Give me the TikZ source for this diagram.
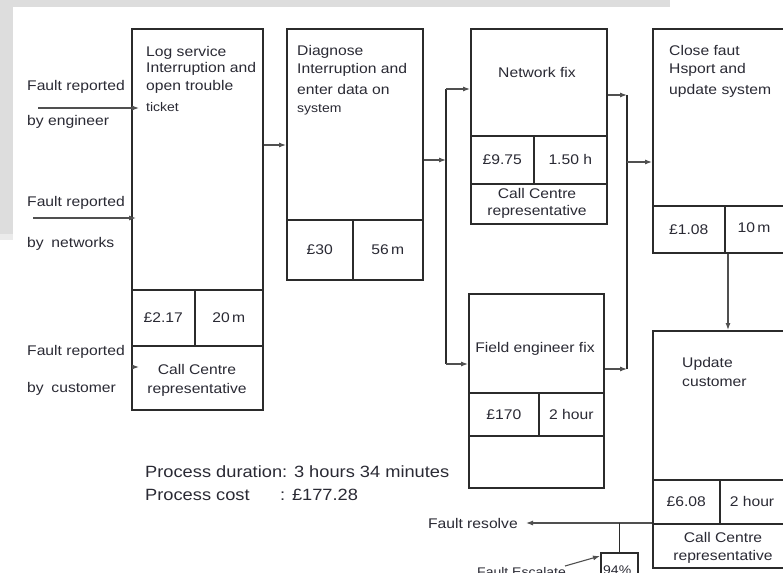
\documentclass[tikz,border=0pt]{standalone}
\usepackage{fontspec}
\setmainfont{Liberation Sans}[FakeStretch=1.12]
\usetikzlibrary{arrows.meta}
\definecolor{linec}{HTML}{2B2B2B}
\definecolor{connc}{HTML}{505050}
\definecolor{textc}{HTML}{2A2A34}
\definecolor{scan}{HTML}{DDDDDD}
\begin{document}
\begin{tikzpicture}[x=1pt,y=-1pt,
  cell/.style={draw=linec, line width=1.6pt, anchor=north west, inner sep=0pt, fill=none},
  txt/.style={inner sep=0pt, text=textc, font=\fontsize{14}{16}\selectfont},
  small/.style={txt, font=\fontsize{12.5}{14}\selectfont},
  ptxt/.style={txt, font=\fontsize{16.3}{18}\selectfont},
  conn/.style={draw=connc, line width=1.1pt},
  vline/.style={draw=linec, line width=1.5pt},
  arr/.style={conn, -{Latex[length=7pt,width=5pt]}}]
\useasboundingbox (0,0) rectangle (783,572);
\fill[white] (0,0) rectangle (783,572);
% scan artefacts
\fill[scan] (0,0) rectangle (670,7);
\fill[scan] (0,0) rectangle (13,234);
\fill[scan!60] (0,234) rectangle (13,240);

% ---- Box 1: Log service
\node[cell, minimum width=131pt, minimum height=261pt] (b1) at (131,28) {};
\node[cell, minimum width=63pt, minimum height=56pt] (b1c) at (131,289) {};
\node[cell, minimum width=68pt, minimum height=56pt] (b1t) at (194,289) {};
\node[cell, minimum width=131pt, minimum height=64pt] (b1r) at (131,345) {};
\node[txt, anchor=base west] (t1a) at (146,57) {Log service};
\node[txt, anchor=base west] (t1b) at (146,73) {Interruption and};
\node[txt, anchor=base west] (t1c) at (146,91) {open trouble};
\node[small, anchor=base west] (t1d) at (146,112) {ticket};
\node[txt] (t1e) at (b1c) {£2.17};
\node[txt] (t1f) at (b1t) {20\,m};
\node[txt] (t1g) at (197,369) {Call Centre};
\node[txt] (t1h) at (197,390) {representative};

% ---- Box 2: Diagnose
\node[cell, minimum width=136pt, minimum height=191pt] (b2) at (286,28) {};
\node[cell, minimum width=66pt, minimum height=60pt] (b2c) at (286,219) {};
\node[cell, minimum width=70pt, minimum height=60pt] (b2t) at (352,219) {};
\node[txt, anchor=base west] (t2a) at (297,56) {Diagnose};
\node[txt, anchor=base west] (t2b) at (297,74) {Interruption and};
\node[txt, anchor=base west] (t2c) at (297,95) {enter data on};
\node[small, anchor=base west] (t2d) at (297,113) {system};
\node[txt] (t2e) at (b2c) {£30};
\node[txt] (t2f) at (b2t) {56\,m};

% ---- Box 3: Network fix
\node[cell, minimum width=136pt, minimum height=107pt] (b3) at (470,28) {};
\node[cell, minimum width=63pt, minimum height=48pt] (b3c) at (470,135) {};
\node[cell, minimum width=73pt, minimum height=48pt] (b3t) at (533,135) {};
\node[cell, minimum width=136pt, minimum height=40pt] (b3r) at (470,183) {};
\node[txt] (t3a) at (537,72) {Network fix};
\node[txt] (t3b) at (b3c) {£9.75};
\node[txt] (t3c) at (b3t) {1.50 h};
\node[txt] (t3d) at (537,193) {Call Centre};
\node[txt] (t3e) at (537,212) {representative};

% ---- Box 4: Field engineer fix
\node[cell, minimum width=135pt, minimum height=99pt] (b4) at (468,293) {};
\node[cell, minimum width=70pt, minimum height=43pt] (b4c) at (468,392) {};
\node[cell, minimum width=65pt, minimum height=43pt] (b4t) at (538,392) {};
\node[cell, minimum width=135pt, minimum height=52pt] (b4r) at (468,435) {};
\node[txt] (t4a) at (535,349) {Field engineer fix};
\node[txt] (t4b) at (b4c) {£170};
\node[txt] (t4c) at (b4t) {2 hour};

% ---- Box 5: Close fault
\node[cell, minimum width=150pt, minimum height=177pt] (b5) at (652,28) {};
\node[cell, minimum width=72pt, minimum height=47pt] (b5c) at (652,205) {};
\node[cell, minimum width=78pt, minimum height=47pt] (b5t) at (724,205) {};
\node[txt, anchor=base west] (t5a) at (669,56) {Close faut};
\node[txt, anchor=base west] (t5b) at (669,74) {Hsport and};
\node[txt, anchor=base west] (t5c) at (669,95) {update system};
\node[txt] (t5d) at (b5c) {£1.08};
\node[txt] (t5e) at (754,228) {10\,m};

% ---- Box 6: Update customer
\node[cell, minimum width=150pt, minimum height=149pt] (b6) at (652,330) {};
\node[cell, minimum width=67pt, minimum height=44pt] (b6c) at (652,479) {};
\node[cell, minimum width=83pt, minimum height=44pt] (b6t) at (719,479) {};
\node[cell, minimum width=150pt, minimum height=44pt] (b6r) at (652,523) {};
\node[txt, anchor=base west] (t6a) at (682,367) {Update};
\node[txt, anchor=base west] (t6b) at (682,386) {customer};
\node[txt] (t6c) at (b6c) {£6.08};
\node[txt] (t6d) at (752,501) {2 hour};
\node[txt] (t6e) at (723,537) {Call Centre};
\node[txt] (t6f) at (723,557) {representative};

% ---- 94% box
\node[cell, minimum width=37pt, minimum height=40pt] (pct) at (600,552) {};
\node[small, anchor=base west] (t7a) at (603,574) {94\%};

% ---- left labels
\node[txt, anchor=base west] (l1a) at (27,91) {Fault reported};
\node[txt, anchor=base west] (l1b) at (27,126) {by engineer};
\node[txt, anchor=base west] (l2a) at (27,206) {Fault reported};
\node[txt, anchor=base west] (l2b) at (27,247) {by\hspace{0.55em}networks};
\node[txt, anchor=base west] (l3a) at (27,355) {Fault reported};
\node[txt, anchor=base west] (l3b) at (27,392) {by\hspace{0.55em}customer};

% ---- process summary
\node[ptxt, anchor=base west] (pd) at (145,477) {Process duration: 3 hours 34 minutes};
\node[ptxt, anchor=base west] (pc) at (145,500) {Process cost};
\node[ptxt, anchor=base west] (pc2) at (280,500) {: £177.28};

% ---- bottom labels
\node[txt, anchor=base east] (fr) at (518,528) {Fault resolve};
\node[small, anchor=base west] (fe) at (477,576) {Fault Escalate};

% ---- coordinates
\coordinate (e1s) at (38,108);  \coordinate (e1e) at (139,108);
\coordinate (e2s) at (33,218);  \coordinate (e2e) at (136,218);
\coordinate (e3s) at (132,367); \coordinate (e3e) at (139,367);
\coordinate (jL) at (446,160);
\coordinate (jLt) at (446,89);
\coordinate (jLb) at (446,364);
\coordinate (jRt) at (627,95);
\coordinate (jRb) at (627,369);
\coordinate (jRm) at (627,162);
\coordinate (frEnd) at (526,523);
\coordinate (feS) at (565,566);

% ---- connectors
\draw[arr] (e1s) -- (e1e);
\draw[arr] (e2s) -- (e2e);
\draw[arr] (e3s) -- (e3e);
\draw[arr] (b1.east |- 0,145) -- (b2.west |- 0,145);
\draw[arr] (b2.east |- jL) -- (jL);
\draw[vline] (jLt) -- (jLb);
\draw[arr] (jLt) -- (b3.west |- jLt);
\draw[arr] (jLb) -- (b4.west |- jLb);
\draw[arr] (b3.east |- jRt) -- (jRt);
\draw[arr] (b4.east |- jRb) -- (jRb);
\draw[vline] (jRt) -- (jRb);
\draw[arr] (jRm) -- (b5.west |- jRm);
\draw[arr] (b5t.south -| 728,0) -- (b6.north -| 728,0);
\draw[arr] (b6r.north west) -- (frEnd);
\draw[vline] (pct.north |- b6r.north) -- (pct.north);
\draw[arr] (feS) -- (pct.west |- 0,556);
\end{tikzpicture}
\end{document}
